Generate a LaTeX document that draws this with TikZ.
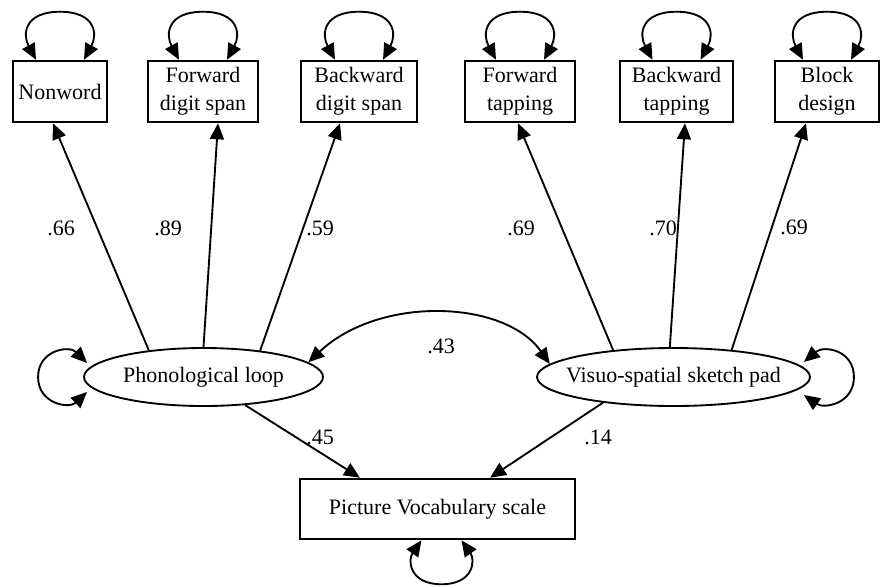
\documentclass[tikz,border=0pt]{standalone}
\usepackage{fontspec}
\setmainfont{Liberation Serif}
\usetikzlibrary{arrows.meta,shapes.geometric,calc}
\begin{document}
\begin{tikzpicture}[x=0.75pt,y=-0.75pt,
  font=\fontsize{16.5}{21}\selectfont,
  >={Triangle[length=12pt,width=10.5pt]},
  obs/.style={draw, line width=1.9pt, rectangle, inner sep=0pt, align=center, minimum height=45.75pt},
  lat/.style={draw, line width=1.4pt, ellipse, inner sep=0pt, minimum height=43.5pt},
  txt/.style={inner sep=0pt},
  coef/.style={inner sep=0pt},
  arr/.style={line width=1.4pt, ->},
  cov/.style={line width=1.4pt, <->},
  loopline/.style={line width=1.4pt, <->}]
\useasboundingbox (0,0) rectangle (883,587);

% observed variables
\node[obs, minimum width=70.5pt] (nonword) at (60,91.5) {Nonword};
\node[obs, minimum width=82.5pt] (fds) at (203,91.5) {Forward\\digit span};
\node[obs, minimum width=87pt] (bds) at (359,91.5) {Backward\\digit span};
\node[obs, minimum width=82.5pt] (ftap) at (520,91.5) {Forward\\tapping};
\node[obs, minimum width=84.75pt] (btap) at (676.5,91.5) {Backward\\tapping};
\node[obs, minimum width=78pt] (block) at (827,91.5) {Block\\design};
\node[obs, minimum width=206.25pt, minimum height=45pt] (pic) at (437.5,509) {Picture Vocabulary scale};

% latent variables
\node[lat, minimum width=179.25pt] (phon) at (203.5,377) {};
\node[txt] (phontext) at (phon) {Phonological loop};
\node[lat, minimum width=204.75pt] (visuo) at (673.5,377) {};
\node[txt] (visuotext) at (visuo) {Visuo-spatial sketch pad};

% loadings
\draw[arr] (phon.154) -- ($(nonword.south)+(-7,0)$);
\draw[arr] (phon.90) -- ($(fds.south)+(15,0)$);
\draw[arr] (phon.25) -- ($(bds.south)+(-19,0)$);
\draw[arr] (visuo.156) -- ($(ftap.south)+(-2,0)$);
\draw[arr] (visuo.97) -- ($(btap.south)+(8.5,0)$);
\draw[arr] (visuo.25) -- ($(block.south)+(-21,0)$);
\draw[arr] (phon.-34) -- ($(pic.north)+(-77.5,0)$);
\draw[arr] (visuo.200) -- ($(pic.north)+(52.5,0)$);

% covariance
\draw[cov] (phon.8) .. controls (380,295) and (505,300) .. (visuo.174);

% self loops on boxes
\foreach \n in {nonword,fds,bds,ftap,btap,block} {
  \draw[loopline] ($(\n.north)+(-24,0)$) .. controls ($(\n.north)+(-38,-26)$) and ($(\n.north)+(-35,-48)$) .. ($(\n.north)+(0,-48)$) .. controls ($(\n.north)+(35,-48)$) and ($(\n.north)+(38,-26)$) .. ($(\n.north)+(24,0)$);
}
% self loops on ellipses
\draw[loopline] ($(phon.west)+(4,-14)$) .. controls ($(phon.west)+(-14,-32)$) and ($(phon.west)+(-45,-27)$) .. ($(phon.west)+(-45,0)$) .. controls ($(phon.west)+(-45,27)$) and ($(phon.west)+(-14,32)$) .. ($(phon.west)+(4,15)$);
\draw[loopline] ($(visuo.east)+(-7,-15)$) .. controls ($(visuo.east)+(13,-32)$) and ($(visuo.east)+(43,-27)$) .. ($(visuo.east)+(43,0)$) .. controls ($(visuo.east)+(43,27)$) and ($(visuo.east)+(13,32)$) .. ($(visuo.east)+(-7,18)$);
% self loop below picture box
\draw[loopline] ($(pic.south)+(-16,0)$) .. controls ($(pic.south)+(-30,20)$) and ($(pic.south)+(-28,44)$) .. ($(pic.south)+(4,44)$) .. controls ($(pic.south)+(36,44)$) and ($(pic.south)+(38,20)$) .. ($(pic.south)+(24,0)$);

% coefficients
\node[coef] (l66) at (61,228) {.66};
\node[coef] (l89) at (168,228) {.89};
\node[coef] (l59) at (320,228) {.59};
\node[coef] (l69a) at (521,228) {.69};
\node[coef] (l70) at (663,228) {.70};
\node[coef] (l69b) at (794,227) {.69};
\node[coef] (l43) at (441,346) {.43};
\node[coef] (l45) at (320,437) {.45};
\node[coef] (l14) at (598,437) {.14};
\end{tikzpicture}
\end{document}
